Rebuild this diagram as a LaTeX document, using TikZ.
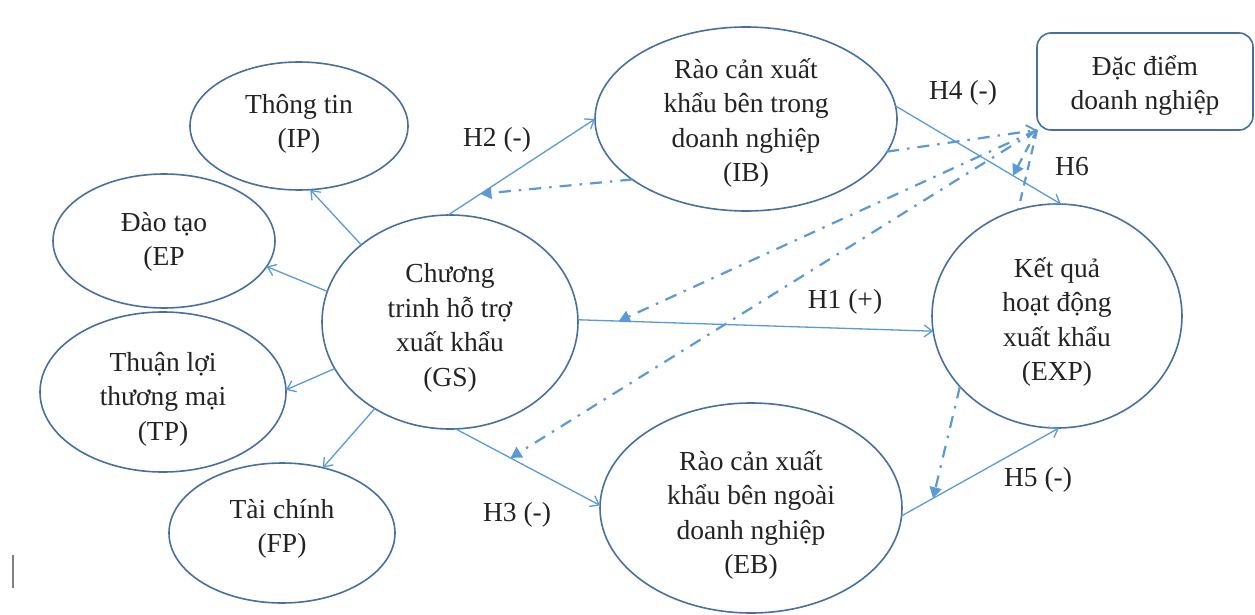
\documentclass[tikz,border=0pt]{standalone}
\usepackage{fontspec}
\setmainfont{Liberation Serif}
\usetikzlibrary{arrows.meta,shapes.geometric}
\definecolor{edgec}{RGB}{72,112,158}
\definecolor{lnk}{RGB}{91,155,213}
\definecolor{txt}{RGB}{35,35,35}
\begin{document}
\begin{tikzpicture}[x=1pt,y=-1pt,
  ell/.style={ellipse,draw=edgec,line width=1.6pt,inner sep=0pt,outer sep=0pt},
  tx/.style={align=center,font=\fontsize{27.5}{34.5}\selectfont,text=txt,inner sep=0pt},
  conn/.style={draw=lnk,line width=1.3pt,-{Straight Barb[length=8pt,width=12pt,line width=1.3pt]}},
  dd/.style={draw=lnk,line width=2.2pt,dash pattern=on 12pt off 8pt on 2.5pt off 8pt,
    -{Triangle[length=11pt,width=12pt]}},
  ddo/.style={draw=lnk,line width=2.2pt,dash pattern=on 12pt off 8pt on 2.5pt off 8pt,
    -{Straight Barb[length=9pt,width=13pt,line width=1.8pt]}},
  dsh/.style={draw=lnk,line width=2.2pt,dash pattern=on 9pt off 7pt,
    -{Triangle[length=11pt,width=12pt]}},
  dshn/.style={draw=lnk,line width=2.2pt,dash pattern=on 9pt off 7pt},
  lab/.style={font=\fontsize{27.5}{34}\selectfont,text=txt,inner sep=0pt}
]
\useasboundingbox (0,0) rectangle (1255,615);
\fill[white] (0,0) rectangle (1255,615);

% ellipses
\node[ell,minimum width=218pt,minimum height=128pt] (IP) at (299,126) {};
\node[ell,minimum width=222pt,minimum height=134pt] (EP) at (164,241) {};
\node[ell,minimum width=246pt,minimum height=160pt] (TP) at (163,392) {};
\node[ell,minimum width=226pt,minimum height=140pt] (FP) at (282,533) {};
\node[ell,minimum width=256pt,minimum height=214pt] (GS) at (450,322) {};
\node[ell,minimum width=302pt,minimum height=184pt] (IB) at (746,119) {};
\node[ell,minimum width=302pt,minimum height=210pt] (EB) at (751,508) {};
\node[ell,minimum width=250pt,minimum height=224pt] (EXP) at (1057,316) {};
\node[draw=edgec,line width=1.6pt,rounded corners=14pt,minimum width=216pt,minimum height=97pt,
  inner sep=0pt,outer sep=0pt] (box) at (1145,81.5) {};

% texts
\node[tx] (tIP) at ([yshift=2pt]IP.center) {Thông tin\\(IP)};
\node[tx] (tEP) at ([yshift=-1pt]EP.center) {Đào tạo\\(EP};
\node[tx] (tTP) at ([yshift=-7pt]TP.center) {Thuận lợi\\thương mại\\(TP)};
\node[tx] (tFP) at ([yshift=4pt]FP.center) {Tài chính\\(FP)};
\node[tx] (tGS) at ([yshift=-6pt]GS.center) {Chương\\trinh hỗ trợ\\xuất khẩu\\(GS)};
\node[tx] (tIB) at ([yshift=-4pt]IB.center) {Rào cản xuất\\khẩu bên trong\\doanh nghiệp\\(IB)};
\node[tx] (tEB) at ([yshift=-7pt]EB.center) {Rào cản xuất\\khẩu bên ngoài\\doanh nghiệp\\(EB)};
\node[tx] (tEXP) at ([yshift=-6pt]EXP.center) {Kết quả\\hoạt động\\xuất khẩu\\(EXP)};
\node[tx] (tbox) at ([yshift=-4pt]box.center) {Đặc điểm\\doanh nghiệp};

% solid connectors
\draw[conn] (GS.139.7) -- (IP.280);
\draw[conn] (GS.166.8) -- (EP.346.6);
\draw[conn] (GS.202.9) -- (TP.1);
\draw[conn] (GS.229.8) -- (FP.58.8);
\draw[conn] (GS.91) -- coordinate[pos=0.22] (p2) (IB.180);
\draw[conn] (GS.1) -- coordinate[pos=0.115] (p1) (EXP.187.7);
\draw[conn] (GS.273) -- coordinate[pos=0.38] (p3) (EB.179);
\draw[conn] (IB.5) -- coordinate[pos=0.71] (p4) (EXP.88.4);
\draw[conn] (EB.357) -- coordinate[pos=0.2] (p5) (EXP.271);

% dash-dot / dashed connectors
\draw[dd] (IB.208) -- (p2);
\draw[dd] (box.south west) -- (p1);
\draw[dd] (box.south west) -- (p3);
\draw[ddo] (IB.347) -- (box.south west);
\draw[dsh] (box.south west) -- (p4);
\draw[dshn] (box.south west) -- (EXP.110);
\draw[dd] (EXP.216) -- (p5);

% labels
\node[lab] (lH2) at (497,140) {H2 (-)};
\node[lab] (lH4) at (963,93) {H4 (-)};
\node[lab] (lH6) at (1072,167) {H6};
\node[lab] (lH1) at (845,302) {H1 (+)};
\node[lab] (lH3) at (517,515) {H3 (-)};
\node[lab] (lH5) at (1038,480) {H5 (-)};

% stray cursor mark
\draw[gray,line width=1.6pt] (13,555) -- (13,588);
\end{tikzpicture}
\end{document}
